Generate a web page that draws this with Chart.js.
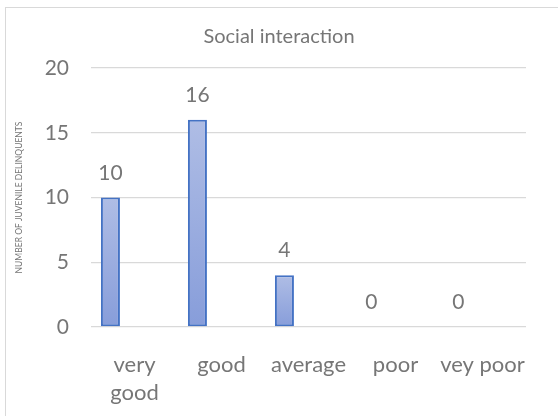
<!DOCTYPE html>
<html>
<head>
<meta charset="utf-8">
<script src="https://cdn.jsdelivr.net/npm/chart.js@4.4.1/dist/chart.umd.min.js"></script>
<style>
  html, body { margin: 0; padding: 0; background: #fff; overflow: hidden; }
  #wrap { position: relative; width: 558px; height: 416px; }
  #frame { position: absolute; left: 5px; top: 7px; width: 600px; height: 460px; border: 1px solid #d9d9d9; box-sizing: border-box; }
  #myBarChart { position: absolute; left: 0; top: 0; }
</style>
</head>
<body>
<div id="wrap">
  <div id="frame"></div>
  <canvas id="myBarChart" width="558" height="416"></canvas>
</div>
<script>
// chart values
var categories = ['very good', 'good', 'average', 'poor', 'vey poor'];
var delinquents = [10, 16, 4, 0, 0];
var yTicks = [0, 5, 10, 15, 20];
// the original chart reserves room for two more (empty) series per category
var spareSeries = [null, null, null, null, null];

var textGrey = '#767676';

// per-bar vertical gradient, like the Excel fill
function barGradient(context) {
    var chart = context.chart;
    var yScale = chart.scales.y;
    if (!chart.chartArea || !yScale) {
        return '#97a9dd';
    }
    var v = context.raw || 0;
    var top = yScale.getPixelForValue(v);
    var bottom = yScale.getPixelForValue(0);
    if (bottom - top < 1) {
        return '#97a9dd';
    }
    var g = chart.ctx.createLinearGradient(0, top, 0, bottom);
    g.addColorStop(0, '#afbde5');
    g.addColorStop(1, '#879dda');
    return g;
}

// value labels above the bars
var valueLabels = {
    id: 'valueLabels',
    afterDatasetsDraw: function (chart) {
        var ctx = chart.ctx;
        var meta = chart.getDatasetMeta(0);
        ctx.save();
        ctx.font = '21px Lato';
        ctx.fillStyle = textGrey;
        ctx.textAlign = 'center';
        ctx.textBaseline = 'alphabetic';
        meta.data.forEach(function (bar, i) {
            ctx.fillText(String(delinquents[i]), bar.x, bar.y - 18);
        });
        ctx.restore();
    }
};

document.addEventListener('DOMContentLoaded', function () {
    var ctxBar = document.getElementById('myBarChart').getContext('2d');
    var myBarChart = new Chart(ctxBar, {
        type: 'bar',
        data: {
            labels: categories,
            datasets: [{
                label: 'Social interaction',
                data: delinquents,
                backgroundColor: barGradient,
                borderColor: '#4472c4',
                borderWidth: 2,
                borderSkipped: false
            }, {
                label: '',
                data: spareSeries
            }, {
                label: '',
                data: spareSeries
            }]
        },
        options: {
            responsive: false,
            animation: false,
            categoryPercentage: 0.83,
            barPercentage: 0.79,
            layout: {
                padding: { left: 8, right: 8, top: 0, bottom: 0 }
            },
            scales: {
                x: {
                    grid: { display: false },
                    border: { display: false },
                    ticks: {
                        color: textGrey,
                        font: { family: 'Lato', size: 22, lineHeight: 1.27 },
                        padding: 16,
                        maxRotation: 0,
                        autoSkip: false,
                        callback: function (value, index) {
                            var label = categories[index];
                            return label.length > 8 ? label.split(' ') : label;
                        }
                    },
                    afterFit: function (scale) {
                        scale.height = 89;
                    }
                },
                y: {
                    min: 0,
                    max: 20,
                    afterBuildTicks: function (scale) {
                        scale.ticks = yTicks.map(function (v) { return { value: v }; });
                    },
                    grid: {
                        color: '#d9d9d9',
                        lineWidth: 1.3,
                        drawTicks: false
                    },
                    border: { display: false },
                    ticks: {
                        color: textGrey,
                        font: { family: 'Lato', size: 21 },
                        padding: 22
                    },
                    title: {
                        display: true,
                        text: 'NUMBER OF JUVENILE DELINQUENTS',
                        color: textGrey,
                        font: { family: 'Lato', size: 8.5 },
                        padding: { top: 6, bottom: 0 }
                    },
                    afterFit: function (scale) {
                        scale.width = 83;
                    }
                },
                // empty spacer on the right so the plot ends where the original does
                yRight: {
                    position: 'right',
                    min: 0,
                    max: 20,
                    grid: { display: false },
                    border: { display: false },
                    ticks: { display: false },
                    afterFit: function (scale) {
                        scale.width = 24;
                    }
                }
            },
            plugins: {
                legend: { display: false },
                tooltip: { enabled: false },
                title: {
                    display: true,
                    text: 'Social interaction',
                    color: textGrey,
                    font: { family: 'Lato', size: 20, weight: 'normal', lineHeight: 1.2 },
                    padding: { top: 25, bottom: 19 }
                }
            }
        },
        plugins: [valueLabels]
    });
});
</script>
</body>
</html>
